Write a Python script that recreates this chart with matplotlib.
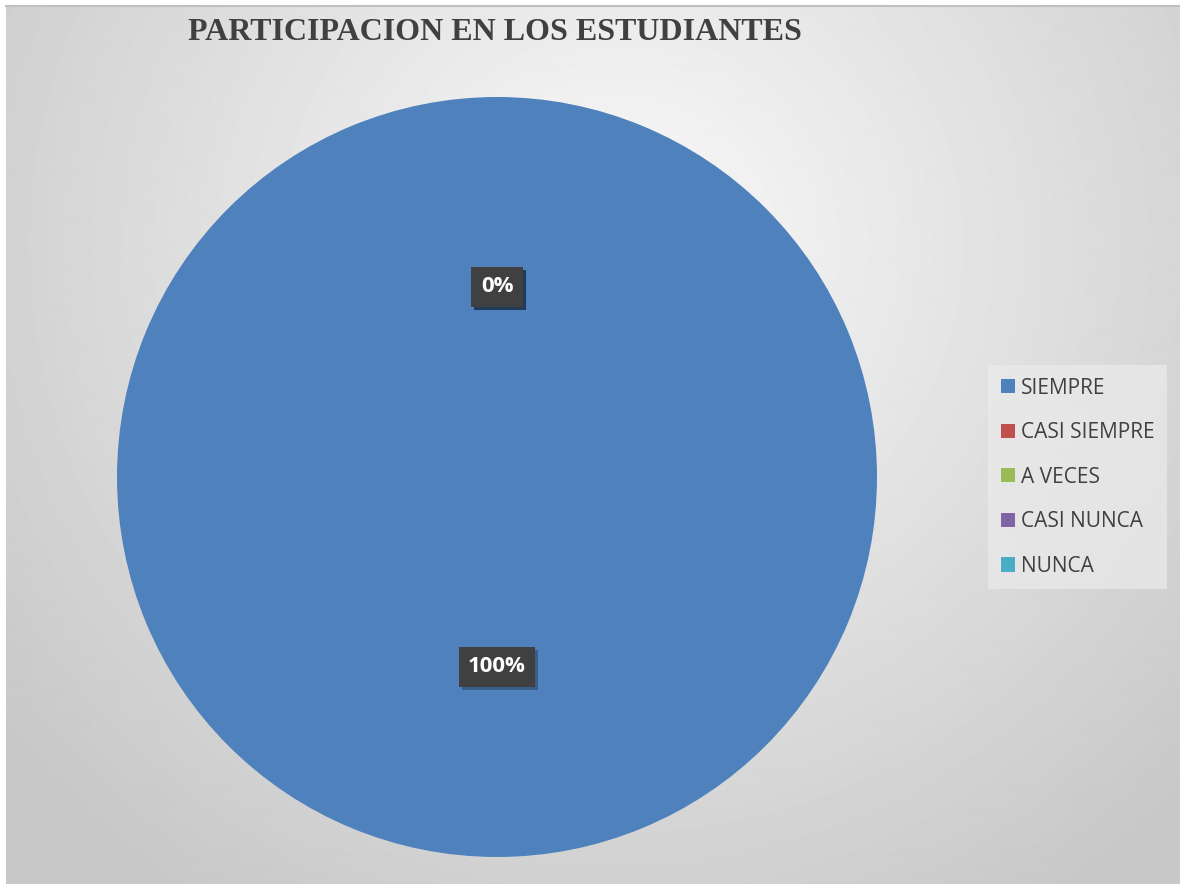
import matplotlib.pyplot as plt
import numpy as np
from matplotlib import transforms

categorias = ["SIEMPRE", "CASI SIEMPRE", "A VECES", "CASI NUNCA", "NUNCA"]
valores = [100, 0, 0, 0, 0]
colores = ["#4F81BD", "#C0504D", "#9BBB59", "#8064A2", "#4BACC6"]
titulo = "PARTICIPACION EN LOS ESTUDIANTES"

W, H = 1180, 884
fig = plt.figure(figsize=(W / 100, H / 100), dpi=100, facecolor="white")

# fondo con degradado radial
bg = fig.add_axes([6 / W, 0, 1 - 6 / W, 1 - 7 / H])
yy, xx = np.mgrid[0:H, 0:W - 6]
dist = np.hypot(xx - 615, yy - 240)
gris = np.clip(250 - 0.064 * dist, 200, 250) / 255
bg.imshow(gris, cmap="gray", vmin=0, vmax=1, aspect="auto",
          extent=(0, 1, 0, 1), interpolation="bilinear")
bg.set_xlim(0, 1)
bg.set_ylim(0, 1)
bg.axis("off")
fig.add_artist(plt.Line2D([6 / W, 1], [1 - 6 / H, 1 - 6 / H], color="#c0c0c0", lw=1.5))

ax = fig.add_axes([117 / W, 27 / H, 760 / W, 760 / H])
wedges, texts, autotexts = ax.pie(
    valores, colors=colores, startangle=90, counterclock=False,
    autopct="%1.0f%%", pctdistance=0.5,
    wedgeprops=dict(linewidth=0))
ax.set_xlim(-1, 1)
ax.set_ylim(-1, 1)
ax.set_aspect("equal")

sombra = transforms.offset_copy(ax.transData, fig=fig, x=3, y=-3, units="dots")
for t in autotexts:
    x, y = t.get_position()
    ax.text(x, y, t.get_text(), transform=sombra, ha="center", va="center",
            fontsize=16, fontweight="bold", family="Open Sans", color="none",
            bbox=dict(boxstyle="square,pad=0.42", fc="#1f3550", ec="none", alpha=0.45),
            zorder=4)
    t.set_fontsize(16)
    t.set_fontweight("bold")
    t.set_family("Open Sans")
    t.set_color("white")
    t.set_bbox(dict(boxstyle="square,pad=0.42", fc="#404040", ec="none"))
    t.set_zorder(5)

fig.text(495 / W, 1 - 32 / H, titulo, ha="center", va="center",
         fontsize=23, fontweight="bold", family="Liberation Serif", color="#404040")

leg = fig.legend(wedges, categorias, loc="upper left",
                 bbox_to_anchor=(988 / W, 1 - 365 / H),
                 prop=dict(family="Open Sans", size=15),
                 handlelength=0.68, handleheight=0.68, handletextpad=0.3,
                 labelspacing=1.13, borderpad=0.6, borderaxespad=0,
                 frameon=True, fancybox=False, edgecolor="none",
                 facecolor="#ebebeb", framealpha=0.7)
for txt in leg.get_texts():
    txt.set_color("#404040")

fig.savefig("out.png", dpi=100, facecolor="white")
